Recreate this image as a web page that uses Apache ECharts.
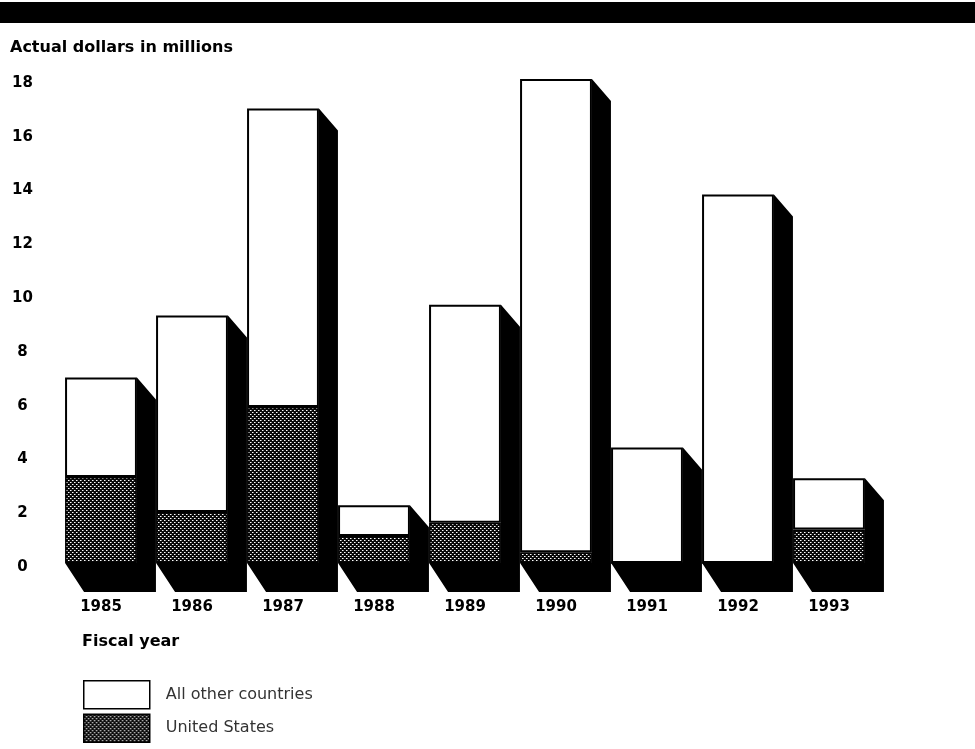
<!DOCTYPE html>
<html>
<head>
<meta charset="utf-8">
<script src="https://cdn.jsdelivr.net/npm/echarts@6/dist/echarts.min.js"></script>
<style>
  html, body { margin: 0; padding: 0; background: #fff; }
  #chart { width: 975px; height: 749px; }
</style>
</head>
<body>
<div id="chart"></div>
<script>
// Fiscal years and funding (actual dollars in millions)
const years = ['1985', '1986', '1987', '1988', '1989', '1990', '1991', '1992', '1993'];
const unitedStates = [3.2, 1.9, 5.8, 1.0, 1.5, 0.4, 0, 0, 1.25];
const otherCountries = [3.7, 7.3, 11.1, 1.15, 8.1, 17.6, 4.3, 13.7, 1.9];
const yTicks = [0, 2, 4, 6, 8, 10, 12, 14, 16, 18];

const totals = years.map((_, i) => unitedStates[i] + otherCountries[i]);

const FONT = '"DejaVu Sans", Arial, sans-serif';

// Dotted halftone fill for the United States segment
function makeHatch() {
  const c = document.createElement('canvas');
  c.width = 4; c.height = 4;
  const g = c.getContext('2d');
  g.fillStyle = '#0a0a0a';
  g.fillRect(0, 0, 4, 4);
  g.fillStyle = '#fff';
  g.fillRect(0, 0, 1, 1);
  g.fillRect(2, 2, 1, 1);
  g.fillStyle = '#8a8a8a';
  g.fillRect(1, 0, 1, 1);
  g.fillRect(3, 2, 1, 1);
  return c;
}
const hatch = { image: makeHatch(), repeat: 'repeat' };

const BAR_RATIO = 0.79;
const DEPTH_X = 19, DEPTH_TOP = 22, DEPTH_BOTTOM = 29;

const chart = echarts.init(document.getElementById('chart'), null, { renderer: 'canvas' });

chart.setOption({
  animation: false,
  backgroundColor: '#fff',
  grid: { left: 55.5, right: 100.5, top: 79, bottom: 186, containLabel: false },
  xAxis: {
    type: 'category',
    data: years,
    axisLine: { show: false },
    axisTick: { show: false },
    axisLabel: {
      margin: 37,
      color: '#000',
      fontFamily: FONT,
      fontWeight: 'bold',
      fontSize: 15
    }
  },
  yAxis: {
    type: 'value',
    min: yTicks[0],
    max: yTicks[yTicks.length - 1],
    interval: yTicks[1] - yTicks[0],
    splitLine: { show: false },
    axisLine: { show: false },
    axisTick: { show: false },
    axisLabel: {
      margin: 33,
      align: 'center',
      verticalAlign: 'top',
      lineHeight: 8,
      color: '#000',
      fontFamily: FONT,
      fontWeight: 'bold',
      fontSize: 15
    }
  },
  legend: {
    orient: 'vertical',
    left: 83,
    top: 680,
    padding: 0,
    itemWidth: 66,
    itemHeight: 28,
    itemGap: 4,
    icon: 'rect',
    data: ['All other countries', 'United States'],
    itemStyle: { borderColor: '#000', borderWidth: 1.5 },
    textStyle: {
      color: '#333',
      fontFamily: FONT,
      fontSize: 16,
      padding: [0, 0, 0, 11]
    }
  },
  graphic: [
    { type: 'rect', left: 0, top: 2, shape: { width: 975, height: 21 }, style: { fill: '#000' } },
    {
      type: 'text', left: 10, top: 40,
      style: { text: 'Actual dollars in millions', fill: '#000', font: 'bold 16px ' + FONT }
    },
    {
      type: 'text', left: 82, top: 634,
      style: { text: 'Fiscal year', fill: '#000', font: 'bold 16px ' + FONT }
    }
  ],
  series: [
    {
      // Black extruded side and floor behind each stacked column
      type: 'custom',
      z: 1,
      silent: true,
      data: totals.map((t, i) => [i, t]),
      renderItem: function (params, api) {
        const top = api.coord([api.value(0), api.value(1)]);
        const base = api.coord([api.value(0), 0]);
        const w = api.size([1, 0])[0] * BAR_RATIO;
        const x0 = top[0] - w / 2, x1 = top[0] + w / 2;
        const yT = top[1], yB = base[1];
        return {
          type: 'polygon',
          shape: {
            points: [
              [x1, yT], [x1 + DEPTH_X, yT + DEPTH_TOP],
              [x1 + DEPTH_X, yB + DEPTH_BOTTOM], [x0 + DEPTH_X, yB + DEPTH_BOTTOM],
              [x0, yB], [x1, yB]
            ]
          },
          style: { fill: '#000' }
        };
      }
    },
    {
      name: 'United States',
      type: 'bar',
      stack: 'total',
      z: 2,
      barWidth: (BAR_RATIO * 100) + '%',
      data: unitedStates,
      itemStyle: { color: hatch, borderColor: '#000', borderWidth: 1.5 }
    },
    {
      name: 'All other countries',
      type: 'bar',
      stack: 'total',
      z: 2,
      barWidth: (BAR_RATIO * 100) + '%',
      data: otherCountries,
      itemStyle: { color: '#fff', borderColor: '#000', borderWidth: 2 }
    }
  ]
});
</script>
</body>
</html>
